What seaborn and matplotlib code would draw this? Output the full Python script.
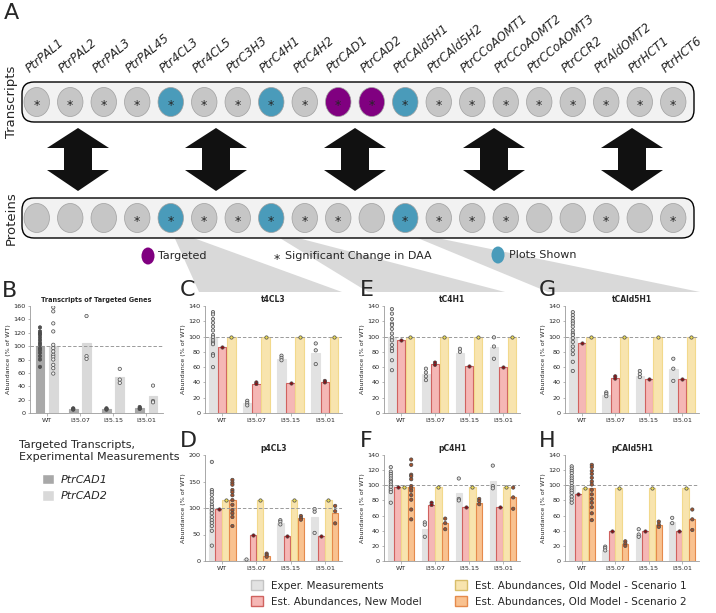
import pandas as pd
import matplotlib
matplotlib.use("Agg")
import matplotlib.pyplot as plt
import seaborn as sns
from matplotlib.patches import Ellipse, FancyBboxPatch, Polygon, Patch

W, H = 716, 613

# ---- panel A: genes and flags
genes = ["PtrPAL1", "PtrPAL2", "PtrPAL3", "PtrPAL45", "Ptr4CL3", "Ptr4CL5", "PtrC3H3",
         "PtrC4H1", "PtrC4H2", "PtrCAD1", "PtrCAD2", "PtrCAld5H1", "PtrCAld5H2",
         "PtrCCoAOMT1", "PtrCCoAOMT2", "PtrCCoAOMT3", "PtrCCR2", "PtrAldOMT2", "PtrHCT1", "PtrHCT6"]
transcript_sig = [1, 1, 1, 1, 1, 1, 1, 1, 1, 1, 1, 1, 1, 1, 1, 1, 1, 1, 1, 1]
protein_sig = [0, 0, 0, 1, 1, 1, 1, 1, 1, 1, 0, 1, 1, 1, 1, 0, 0, 1, 0, 1]
targeted = ["PtrCAD1", "PtrCAD2"]
plots_shown = ["Ptr4CL3", "PtrC4H1", "PtrCAld5H1"]

groups = ["WT", "I35.07", "I35.15", "I35.01"]

# ---- panel B: transcripts of targeted genes
cad1_bar = [100, 6, 6, 7]
cad1_pts = [[128, 122, 119, 117, 113, 109, 105, 102, 97, 94, 90, 85, 80, 69], [7, 6, 5], [7, 6, 5], [9, 7, 6]]
cad2_bar = [100, 104, 54, 26]
cad2_pts = [[158, 152, 134, 122, 102, 97, 92, 87, 84, 80, 72, 67, 59], [145, 85, 81], [66, 50, 45], [41, 18, 16]]

# ---- panel C: t4CL3
t4cl3_exp_bar = [100, 13, 71, 79]
t4cl3_exp_pts = [[132, 129, 123, 118, 113, 108, 102, 99, 95, 92, 90, 77, 75, 60], [16, 13, 10], [75, 72, 69], [91, 82, 64]]
t4cl3_new_bar = [87, 38, 39, 41]
t4cl3_new_pts = [[87], [40, 38], [39], [42, 40]]
t4cl3_old1_bar = [100, 100, 100, 100]
t4cl3_old1_pts = [[100], [100], [100], [100]]

# ---- panel D: p4CL3
p4cl3_exp_bar = [100, 3, 71, 83]
p4cl3_exp_pts = [[187, 134, 130, 125, 118, 112, 106, 102, 96, 90, 83, 77, 72, 66, 57, 29], [3], [77, 74, 69], [98, 93, 53]]
p4cl3_new_bar = [99, 49, 48, 48]
p4cl3_new_pts = [[99], [49], [48], [48]]
p4cl3_old1_bar = [115, 115, 115, 115]
p4cl3_old1_pts = [[115], [115], [115], [115]]
p4cl3_old2_bar = [115, 10, 81, 90]
p4cl3_old2_pts = [[153, 148, 144, 134, 130, 124, 115, 106, 96, 90, 83, 66], [14, 11, 8], [85, 81, 78], [104, 94, 71]]

# ---- panel E: tC4H1
tc4h1_exp_bar = [100, 51, 79, 87]
tc4h1_exp_pts = [[136, 130, 123, 117, 115, 110, 104, 99, 95, 89, 84, 81, 69, 56], [58, 53, 48, 43], [84, 80], [99, 87, 71]]
tc4h1_new_bar = [96, 64, 61, 60]
tc4h1_new_pts = [[96], [66, 63], [61], [60]]
tc4h1_old1_bar = [100, 100, 100, 100]
tc4h1_old1_pts = [[100], [100], [100], [100]]

# ---- panel F: pC4H1
pc4h1_exp_bar = [100, 42, 90, 106]
pc4h1_exp_pts = [[124, 118, 115, 112, 109, 106, 104, 101, 98, 94, 91, 77], [51, 48, 32], [109, 82, 80], [126, 99, 96]]
pc4h1_new_bar = [98, 74, 71, 71]
pc4h1_new_pts = [[98], [77, 74], [71], [71]]
pc4h1_old1_bar = [98, 98, 98, 98]
pc4h1_old1_pts = [[98], [98], [98], [98]]
pc4h1_old2_bar = [98, 50, 77, 84]
pc4h1_old2_pts = [[134, 127, 114, 112, 108, 99, 96, 93, 87, 81, 68, 55], [56, 50, 42], [82, 79, 75], [97, 84, 69]]

# ---- panel G: tCAld5H1
tcald_exp_bar = [100, 23, 49, 57]
tcald_exp_pts = [[132, 128, 124, 120, 117, 113, 108, 104, 102, 98, 93, 87, 82, 77, 67, 55], [27, 25, 22], [55, 51, 47], [71, 58, 42]]
tcald_new_bar = [92, 46, 45, 45]
tcald_new_pts = [[92], [48, 45], [45], [45]]
tcald_old1_bar = [100, 100, 100, 100]
tcald_old1_pts = [[100], [100], [100], [100]]

# ---- panel H: pCAld5H1
pcald_exp_bar = [100, 14, 34, 51]
pcald_exp_pts = [[125, 122, 119, 116, 112, 109, 106, 103, 99, 96, 93, 90, 85, 81, 77], [19, 17, 14], [42, 35, 32], [57, 50]]
pcald_new_bar = [89, 40, 39, 39]
pcald_new_pts = [[89], [40], [39], [39]]
pcald_old1_bar = [96, 96, 96, 96]
pcald_old1_pts = [[96], [96], [96], [96]]
pcald_old2_bar = [96, 22, 47, 55]
pcald_old2_pts = [[127, 124, 119, 115, 110, 105, 101, 94, 88, 82, 77, 71, 63, 54], [26, 23, 20], [52, 48, 45], [68, 55, 41]]

BAR_FACE = {"exp": "#e2e2e2", "new": "#f5b7b5", "old1": "#f8e4ae", "old2": "#f9c290",
            "cad1": "#a8a8a8", "cad2": "#d9d9d9"}
BAR_EDGE = {"exp": "#e2e2e2", "new": "#d0625f", "old1": "#f2d98c", "old2": "#e58a4c",
            "cad1": "#a8a8a8", "cad2": "#d9d9d9"}
PT_FACE = {"exp": "#dcdcdc", "new": "#8c0f14", "old1": "#ecdc55", "old2": "#a0512d",
           "cad1": "#505050", "cad2": "#eeeeee"}

sns.set_style("ticks")
plt.rcParams["font.family"] = ["DejaVu Sans"]

fig = plt.figure(figsize=(W / 100, H / 100), dpi=100)


def px_axes(left, top, right, bottom):
    return fig.add_axes([left / W, 1 - bottom / H, (right - left) / W, (bottom - top) / H])


def long_bars(names, bar_lists):
    rows = [(g, s, v) for s, vals in zip(names, bar_lists) for g, v in zip(groups, vals)]
    return pd.DataFrame(rows, columns=["group", "series", "value"])


def long_points(names, pt_lists):
    rows = [(g, s, v) for s, per in zip(names, pt_lists) for g, vals in zip(groups, per) for v in vals]
    return pd.DataFrame(rows, columns=["group", "series", "value"])


def draw_panel(ax, title, names, bar_lists, pt_lists, ymax, ystep, gap=0.05, title_size=5.5):
    bdf = long_bars(names, bar_lists)
    pdf = long_points(names, pt_lists)
    sns.barplot(data=bdf, x="group", y="value", hue="series", order=groups, hue_order=names,
                palette={s: BAR_FACE[s] for s in names}, saturation=1, errorbar=None,
                gap=gap, linewidth=0.8, legend=False, ax=ax)
    for cont, s in zip(ax.containers, names):
        for p in cont:
            p.set_edgecolor(BAR_EDGE[s])
    ax.axhline(100, color="#9a9a9a", lw=0.7, ls=(0, (3.5, 2)), zorder=2.5)
    sns.stripplot(data=pdf, x="group", y="value", hue="series", order=groups, hue_order=names,
                  palette={s: PT_FACE[s] for s in names}, dodge=True, jitter=False, size=2.4,
                  linewidth=0.5, edgecolor="#4a4a4a", legend=False, ax=ax, zorder=3)
    ax.set_ylim(0, ymax)
    ax.set_yticks(range(0, ymax + 1, ystep))
    ax.set_xlim(-0.5, 3.5)
    ax.set_facecolor("none")
    ax.set_title(title, fontsize=title_size, fontweight="bold", pad=3)
    ax.set_xlabel("")
    ax.set_ylabel("Abundance (% of WT)", fontsize=4.6, labelpad=1.5)
    ax.tick_params(labelsize=4.6, length=1.8, width=0.5, color="#9a9a9a", pad=1.5)
    sns.despine(ax=ax)
    for sp in ("left", "bottom"):
        ax.spines[sp].set_color("#9a9a9a")
        ax.spines[sp].set_linewidth(0.6)


# ---- overlay for panel A decorations (pixel coordinates)
ov = fig.add_axes([0, 0, 1, 1])
ov.set_xlim(0, W)
ov.set_ylim(H, 0)
ov.axis("off")

fan_color = "#d9d9d9"
for pts in ([(172, 232), (177, 232), (342, 292), (199, 292)],
            [(270, 232), (275, 232), (505, 292), (368, 292)],
            [(403, 232), (408, 232), (700, 292), (548, 292)]):
    ov.add_patch(Polygon(pts, closed=True, fc=fan_color, ec="none", zorder=1))

for top in (82, 198):
    ov.add_patch(FancyBboxPatch((22, top), 672, 40, boxstyle="round,pad=0,rounding_size=12",
                                fc="#f2f2f2", ec="black", lw=1.0, zorder=2))

for c in (78, 216, 355, 494, 632):
    ov.add_patch(Polygon([(c, 128), (c + 31, 148), (c + 14, 148), (c + 14, 170), (c + 31, 170),
                          (c, 191), (c - 31, 170), (c - 14, 170), (c - 14, 148), (c - 31, 148)],
                         closed=True, fc="#111111", ec="none", zorder=2))

ov.text(11, 102, "Transcripts", rotation=90, ha="center", va="center", fontsize=9.5)
ov.text(11, 218, "Proteins", rotation=90, ha="center", va="center", fontsize=9.5)

# legend row of panel A
ov.add_patch(Ellipse((148, 256), 13, 17, fc="#800080", ec="none"))
ov.text(158, 256, "Targeted", ha="left", va="center", fontsize=8)
ov.text(277, 259, "*", ha="center", va="center", fontsize=9)
ov.text(285, 256, "Significant Change in DAA", ha="left", va="center", fontsize=8)
ov.add_patch(Ellipse((498, 255), 13, 17, fc="#4a9bba", ec="none"))
ov.text(509, 255, "Plots Shown", ha="left", va="center", fontsize=8)

# ---- gene rows
row = fig.add_axes([20 / W, 0, 670 / W, 1])
row.set_xlim(-0.5, 19.5)
row.set_ylim(H, 0)
row.axis("off")
for i, g in enumerate(genes):
    tcol = "#800080" if g in targeted else ("#4a9bba" if g in plots_shown else "#c6c6c6")
    pcol = "#4a9bba" if g in plots_shown else "#c6c6c6"
    row.add_patch(Ellipse((i, 102), 0.76, 29, fc=tcol, ec="#a0a0a0", lw=0.5))
    row.add_patch(Ellipse((i, 218), 0.76, 29, fc=pcol, ec="#a0a0a0", lw=0.5))
    if transcript_sig[i]:
        row.text(i, 106, "*", ha="center", va="center", fontsize=9)
    if protein_sig[i]:
        row.text(i, 222, "*", ha="center", va="center", fontsize=9)
    row.text(i - 0.22, 73, g, rotation=40, rotation_mode="anchor", ha="left", va="baseline",
             fontsize=8.6, style="italic")

# ---- bar panels
axB = px_axes(30, 306, 163, 413)
draw_panel(axB, "Transcripts of Targeted Genes", ["cad1", "cad2"], [cad1_bar, cad2_bar],
           [cad1_pts, cad2_pts], 160, 20, gap=0.35, title_size=4.7)

axC = px_axes(205, 306, 342, 413)
draw_panel(axC, "t4CL3", ["exp", "new", "old1"], [t4cl3_exp_bar, t4cl3_new_bar, t4cl3_old1_bar],
           [t4cl3_exp_pts, t4cl3_new_pts, t4cl3_old1_pts], 140, 20)
axE = px_axes(384, 306, 520, 413)
draw_panel(axE, "tC4H1", ["exp", "new", "old1"], [tc4h1_exp_bar, tc4h1_new_bar, tc4h1_old1_bar],
           [tc4h1_exp_pts, tc4h1_new_pts, tc4h1_old1_pts], 140, 20)
axG = px_axes(565, 306, 699, 413)
draw_panel(axG, "tCAld5H1", ["exp", "new", "old1"], [tcald_exp_bar, tcald_new_bar, tcald_old1_bar],
           [tcald_exp_pts, tcald_new_pts, tcald_old1_pts], 140, 20)

axD = px_axes(205, 455, 342, 561)
draw_panel(axD, "p4CL3", ["exp", "new", "old1", "old2"],
           [p4cl3_exp_bar, p4cl3_new_bar, p4cl3_old1_bar, p4cl3_old2_bar],
           [p4cl3_exp_pts, p4cl3_new_pts, p4cl3_old1_pts, p4cl3_old2_pts], 200, 50)
axF = px_axes(384, 455, 520, 561)
draw_panel(axF, "pC4H1", ["exp", "new", "old1", "old2"],
           [pc4h1_exp_bar, pc4h1_new_bar, pc4h1_old1_bar, pc4h1_old2_bar],
           [pc4h1_exp_pts, pc4h1_new_pts, pc4h1_old1_pts, pc4h1_old2_pts], 140, 20)
axH = px_axes(565, 455, 699, 561)
draw_panel(axH, "pCAld5H1", ["exp", "new", "old1", "old2"],
           [pcald_exp_bar, pcald_new_bar, pcald_old1_bar, pcald_old2_bar],
           [pcald_exp_pts, pcald_new_pts, pcald_old1_pts, pcald_old2_pts], 140, 20)

# panel letters
for letter, x, y in (("A", 4, 3), ("B", 2, 281), ("C", 180, 280), ("D", 180, 431),
                     ("E", 360, 280), ("F", 360, 431), ("G", 539, 280), ("H", 539, 431)):
    fig.text(x / W, 1 - y / H, letter, ha="left", va="top", fontsize=16)

# panel B legend
fig.text(19 / W, 1 - 440 / H, "Targeted Transcripts,\nExperimental Measurements",
         ha="left", va="top", fontsize=8, linespacing=1.25)
fig.legend(handles=[Patch(fc=BAR_FACE["cad1"]), Patch(fc=BAR_FACE["cad2"])],
           labels=["PtrCAD1", "PtrCAD2"], loc="upper left",
           bbox_to_anchor=(34 / W, 1 - 466 / H), frameon=False,
           prop={"style": "italic", "size": 8}, handlelength=1.1, handleheight=1.1,
           handletextpad=0.6, labelspacing=0.45, borderpad=0.2)

# bottom legend
fig.legend(handles=[Patch(fc=BAR_FACE["exp"], ec="#c4c4c4"), Patch(fc=BAR_FACE["new"], ec=BAR_EDGE["new"]),
                    Patch(fc=BAR_FACE["old1"], ec="#d8bd6a"), Patch(fc=BAR_FACE["old2"], ec=BAR_EDGE["old2"])],
           labels=["Exper. Measurements", "Est. Abundances, New Model",
                   "Est. Abundances, Old Model - Scenario 1", "Est. Abundances, Old Model - Scenario 2"],
           ncol=2, loc="upper left", bbox_to_anchor=(244 / W, 1 - 573 / H), frameon=False,
           fontsize=7.5, handlelength=1.1, handleheight=1.1, handletextpad=0.8,
           columnspacing=3.2, labelspacing=0.5, borderpad=0.2)

fig.savefig("out.png", dpi=100)
